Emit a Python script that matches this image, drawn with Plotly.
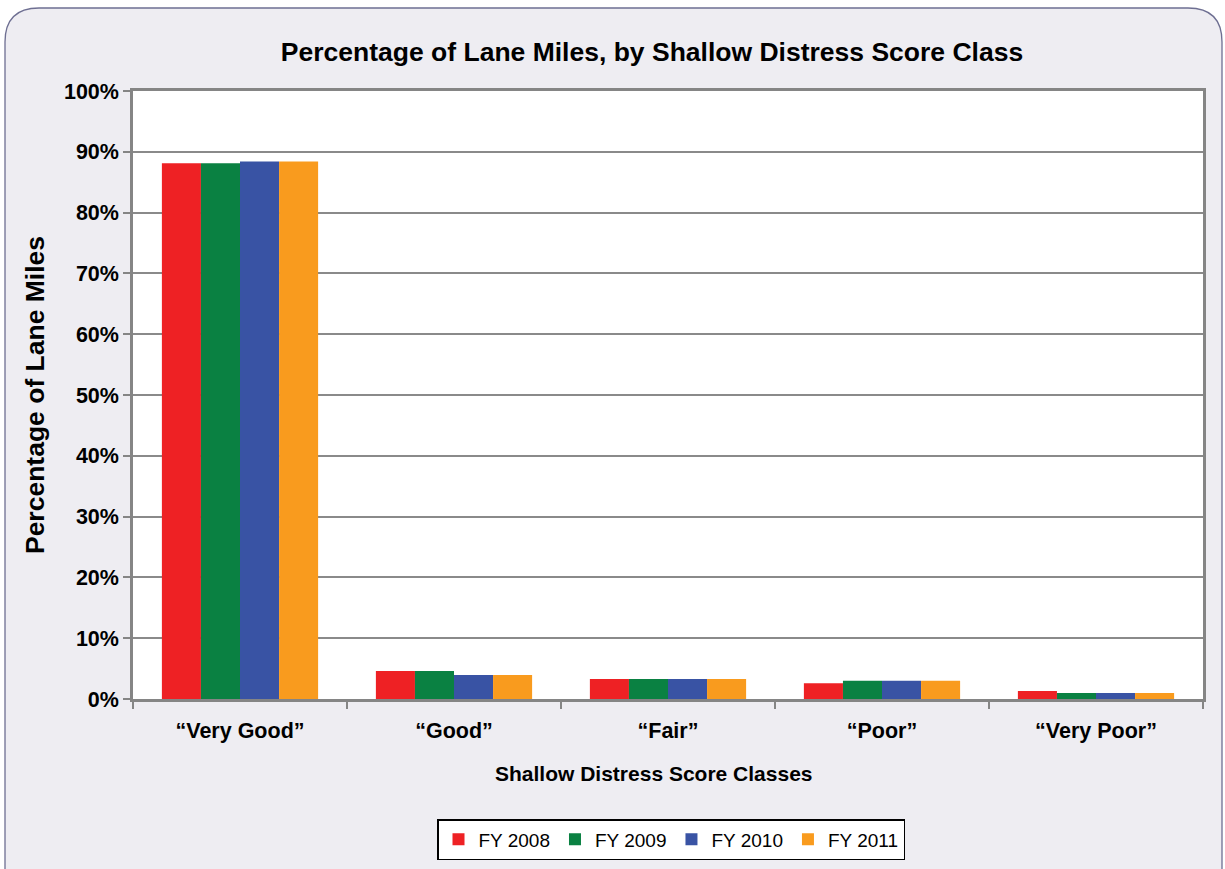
import plotly.graph_objects as go

categories = ["“Very Good”", "“Good”", "“Fair”", "“Poor”", "“Very Poor”"]
series_names = ["FY 2008", "FY 2009", "FY 2010", "FY 2011"]
fy2008 = [88.1, 4.6, 3.3, 2.6, 1.3]
fy2009 = [88.1, 4.6, 3.3, 3.0, 1.0]
fy2010 = [88.4, 3.95, 3.3, 3.0, 1.0]
fy2011 = [88.4, 3.95, 3.3, 3.0, 1.0]
y_ticks = [0, 10, 20, 30, 40, 50, 60, 70, 80, 90, 100]
y_ticktext = [f"{v}%" for v in y_ticks]

colors = ["#EE2124", "#0A8142", "#3953A4", "#F99B1E"]
FONT = "Liberation Sans, Arial, sans-serif"

W, H = 1225, 869
L, R, T, B = 133, 1203, 91, 699  # plot area pixel bounds


def px(x):
    return (x - L) / (R - L)


def py(y):
    return (B - y) / (B - T)


fig = go.Figure()
for name, vals, c in zip(series_names, [fy2008, fy2009, fy2010, fy2011], colors):
    fig.add_trace(go.Bar(name=name, x=categories, y=vals, marker=dict(color=c, line=dict(width=0))))

# rounded background panel
x0, y0, x1, y1, r = 5, 8, 1222, 920, 34
path = (
    f"M {px(x0)},{py(y0 + r)} "
    f"Q {px(x0)},{py(y0)} {px(x0 + r)},{py(y0)} "
    f"L {px(x1 - r)},{py(y0)} "
    f"Q {px(x1)},{py(y0)} {px(x1)},{py(y0 + r)} "
    f"L {px(x1)},{py(y1)} L {px(x0)},{py(y1)} Z"
)
shapes = [
    dict(type="path", path=path, xref="paper", yref="paper", layer="below",
         fillcolor="#EEEDF2", line=dict(color="#6E6F92", width=1.3)),
    dict(type="rect", x0=0, x1=1, y0=0, y1=1, xref="paper", yref="paper", layer="below",
         fillcolor="white", line=dict(width=0)),
]

annotations = [
    dict(text="<b>Shallow Distress Score Classes</b>", x=px(654), y=py(773),
         xref="paper", yref="paper", xanchor="center", yanchor="middle",
         showarrow=False, font=dict(size=21, family=FONT, color="black")),
]

fig.update_layout(
    width=W, height=H,
    margin=dict(l=L, r=W - R, t=T, b=H - B, autoexpand=False),
    paper_bgcolor="white",
    plot_bgcolor="rgba(0,0,0,0)",
    shapes=shapes,
    annotations=annotations,
    barmode="group",
    bargap=0.27,
    bargroupgap=0,
    font=dict(family=FONT, color="black"),
    title=dict(text="<b>Percentage of Lane Miles, by Shallow Distress Score Class</b>",
               x=652 / W, xanchor="center", y=1 - 52 / H, yanchor="middle",
               font=dict(size=26.5, family=FONT, color="black")),
    xaxis=dict(
        showline=True, linecolor="#858585", linewidth=2.5, mirror=True,
        ticks="outside", tickson="boundaries", ticklen=7, tickwidth=2, tickcolor="#858585",
        tickfont=dict(size=21.5, family=FONT, weight="bold"),
        ticklabelstandoff=10,
        showgrid=False,
    ),
    yaxis=dict(
        range=[0, 100], tickvals=y_ticks, ticktext=y_ticktext,
        showline=True, linecolor="#858585", linewidth=2.5, mirror=True,
        ticks="outside", ticklen=7, tickwidth=2, tickcolor="#858585",
        showgrid=True, gridcolor="#8A8A8A", gridwidth=2, zeroline=False,
        tickfont=dict(size=21.5, family=FONT, weight="bold"),
        title=dict(text="<b>Percentage of Lane Miles</b>", font=dict(size=26.5, family=FONT), standoff=12),
    ),
    legend=dict(
        orientation="h", x=px(671), xanchor="center", y=py(819), yanchor="top",
        bgcolor="white", bordercolor="black", borderwidth=1.5,
        font=dict(size=19, family=FONT), itemwidth=30, tracegroupgap=0,
    ),
)

fig.write_html("out.html")
